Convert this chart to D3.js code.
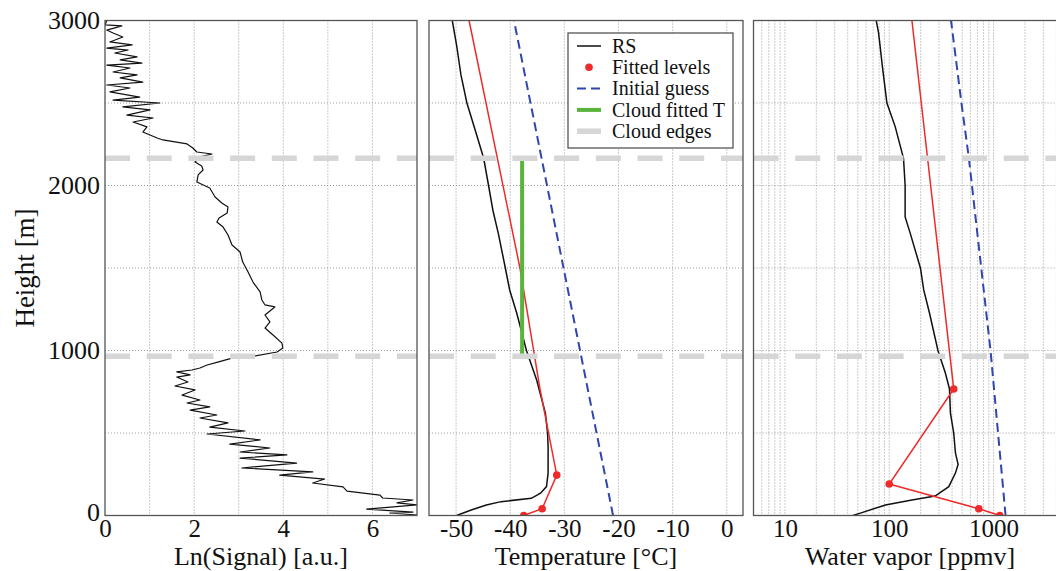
<!DOCTYPE html>
<html><head><meta charset="utf-8">
<script src="https://cdn.jsdelivr.net/npm/d3@7"></script>
<style>
body{margin:0;background:#fff}
svg{display:block}
text{font-family:"Liberation Serif","Times New Roman",serif;fill:#111}
</style>
</head><body>
<svg id="c" width="1056" height="571"></svg>
<script>
// ---------------- DATA ----------------
const heightTicks = [0, 1000, 2000, 3000];
const heightGrid = [500, 1000, 1500, 2000, 2500];
const signalTicks = [0, 2, 4, 6];
const signalGrid = [1, 2, 3, 4, 5, 6];
const tempTicks = [-50, -40, -30, -20, -10, 0];
const vaporTicks = [10, 100, 1000];
const cloudEdges = [965, 2165];
const cloudFittedT = -37.8;
const cloudFittedRange = [975, 2165];

// Ln(Signal) profile: [height m, ln signal]
const signalProfile = [[3000,0.04],[2973,0],[2967,0.38],[2942,0.04],[2924,0.18],[2900,0.40],[2870,0.11],[2852,0.61],[2833,0.04],[2821,0.52],[2803,0.22],[2779,0.72],[2761,0.34],[2742,0.83],[2730,0.04],[2712,0.56],[2688,0.18],[2670,0.72],[2652,0.34],[2627,0.85],[2609,0.04],[2591,0.56],[2567,0.11],[2536,0.78],[2518,0.18],[2500,1.23],[2476,0.40],[2458,1.01],[2427,0.49],[2409,1.08],[2385,0.63],[2355,0.94],[2324,0.85],[2306,1.01],[2288,1.17],[2276,1.30],[2264,1.57],[2252,1.84],[2227,1.97],[2203,2.06],[2191,2.40],[2173,2.13],[2142,2.02],[2118,2.17],[2094,2.20],[2064,2.09],[2021,2.06],[1985,2.35],[1930,2.47],[1894,2.62],[1870,2.76],[1833,2.74],[1803,2.56],[1779,2.51],[1748,2.65],[1700,2.76],[1639,2.85],[1597,3.03],[1536,3.09],[1476,3.21],[1415,3.32],[1355,3.48],[1306,3.52],[1276,3.59],[1264,3.81],[1215,3.59],[1173,3.70],[1136,3.59],[1094,3.77],[1045,3.97],[1015,3.99],[991,3.86],[961,3.25],[955,2.87],[930,2.53],[912,2.29],[894,2.13],[882,1.95],[870,1.61],[852,1.91],[839,1.61],[809,1.86],[785,1.57],[761,2.02],[730,1.73],[700,2.13],[682,1.84],[658,2.35],[639,1.91],[609,2.51],[591,2.13],[561,2.76],[536,2.35],[512,3.14],[494,2.29],[458,3.48],[433,2.80],[409,3.70],[385,3.03],[367,4.08],[348,3.03],[318,4.30],[288,3.07],[264,4.66],[245,3.92],[221,4.93],[197,4.66],[173,5.34],[148,5.43],[124,6.17],[106,6.23],[94,6.91],[76,6.55],[64,7.0],[39,5.87],[21,6.91],[15,6.39],[3,7.0]];

// Temperature panel: [height m, T °C]
const rsTemp = [[3000,-50.7],[2850,-49.9],[2670,-49.1],[2500,-48.0],[2350,-46.6],[2165,-44.9],[2000,-44.0],[1850,-43.2],[1710,-42.2],[1500,-40.9],[1367,-40.1],[1227,-38.8],[1000,-37.0],[820,-35.1],[620,-33.5],[500,-33.1],[417,-33.0],[257,-33.0],[175,-33.3],[135,-34.4],[104,-36.1],[84,-41.7],[64,-44.4],[33,-47.2],[0,-49.9]];
const fittedTempProfile = [[0,-37.5],[41,-34.1],[245,-31.4],[767,-34.5],[1500,-38.2],[3000,-47.6]];
const fittedTempLevels = [[0,-37.5],[41,-34.1],[245,-31.4]];
const initialTemp = [[0,-21.0],[3000,-39.3]];

// Water vapor panel: [height m, ppmv]
const rsVapor = [[3000,75],[2927,79],[2720,86],[2500,95],[2357,114],[2165,137],[2000,142],[1810,142],[1710,159],[1500,199],[1367,214],[1227,243],[1000,293],[864,345],[767,378],[620,386],[500,415],[379,431],[310,457],[257,431],[175,372],[118,275],[94,165],[64,92],[13,52],[0,45]];
const fittedVaporProfile = [[0,1148],[41,722],[191,100],[767,415],[3000,165]];
const fittedVaporLevels = [[0,1148],[41,722],[191,100],[767,415]];
const initialVapor = [[0,1303],[1000,935],[2165,580],[2500,492],[3000,391]];

// ---------------- CHART ----------------
const svg = d3.select("#c");
const yTop = 20.5, yBottom = 515.5;
const y = d3.scaleLinear().domain([0, 3000]).range([yBottom, yTop]);

const panels = [
  {x: d3.scaleLinear().domain([0, 7]).range([105, 417]), title: "Ln(Signal) [a.u.]", ticks: signalTicks, grid: signalGrid, fmt: d => String(d)},
  {x: d3.scaleLinear().domain([-55, 3]).range([429, 743]), title: "Temperature [°C]", ticks: tempTicks, grid: tempTicks, fmt: d => String(d)},
  {x: d3.scaleLog().domain([5, 5000]).range([753.5, 1066.5]), title: "Water vapor [ppmv]", ticks: vaporTicks, grid: null, fmt: d => String(d)}
];
const logGrid = [];
[1, 10, 100, 1000].forEach(dec => { for (let k = 1; k <= 9; k++) { const v = k * dec; if (v >= 5 && v <= 5000) logGrid.push(v); } });
panels[2].grid = logGrid;

const frameColor = "#555";
const gridColor = "#9a9a9a";

panels.forEach((p, i) => {
  const g = svg.append("g");
  const [x0, x1] = p.x.range();
  const clipId = "clip" + i;
  svg.append("clipPath").attr("id", clipId).append("rect")
    .attr("x", x0).attr("y", yTop).attr("width", x1 - x0).attr("height", yBottom - yTop);
  const inner = g.append("g").attr("clip-path", `url(#${clipId})`);
  inner.selectAll(".vg").data(p.grid).join("line")
    .attr("x1", d => p.x(d)).attr("x2", d => p.x(d)).attr("y1", yTop).attr("y2", yBottom)
    .attr("stroke", gridColor).attr("stroke-width", 1).attr("stroke-dasharray", "1,2");
  inner.selectAll(".hg").data(heightGrid).join("line")
    .attr("x1", x0).attr("x2", x1).attr("y1", d => y(d)).attr("y2", d => y(d))
    .attr("stroke", gridColor).attr("stroke-width", 1).attr("stroke-dasharray", "1,2");
  p.inner = inner; p.g = g;
  const ax = g.append("g").attr("transform", `translate(0,${yBottom})`)
    .call(d3.axisBottom(p.x).tickValues(p.ticks).tickSize(0).tickPadding(0).tickFormat(p.fmt));
  ax.select(".domain").remove();
  ax.selectAll("text").attr("y", 21).attr("dy", null).style("font-size", "25px").attr("fill", "#111");
  g.append("text").attr("x", (x0 + x1) / 2).attr("y", 565).attr("text-anchor", "middle")
    .style("font-size", "26px").text(p.title);
});

const line = (xs) => d3.line().x(d => xs(d[1])).y(d => y(d[0]));

// Panel 1
panels[0].inner.append("path").datum(signalProfile).attr("d", line(panels[0].x))
  .attr("fill", "none").attr("stroke", "#111").attr("stroke-width", 1.2).attr("stroke-linejoin", "round");

// Panel 2
const p2 = panels[1];
p2.inner.append("path").datum(rsTemp).attr("d", line(p2.x))
  .attr("fill", "none").attr("stroke", "#111").attr("stroke-width", 1.5);
p2.inner.append("path").datum(fittedTempProfile).attr("d", line(p2.x))
  .attr("fill", "none").attr("stroke", "#ee2a2a").attr("stroke-width", 1.5);
p2.inner.selectAll(".dot").data(fittedTempLevels).join("circle")
  .attr("cx", d => p2.x(d[1])).attr("cy", d => y(d[0])).attr("r", 3.8).attr("fill", "#ee2a2a");
p2.inner.append("path").datum(initialTemp).attr("d", line(p2.x))
  .attr("fill", "none").attr("stroke", "#3045b0").attr("stroke-width", 2).attr("stroke-dasharray", "9,5");
p2.inner.append("line")
  .attr("x1", p2.x(cloudFittedT)).attr("x2", p2.x(cloudFittedT))
  .attr("y1", y(cloudFittedRange[0])).attr("y2", y(cloudFittedRange[1]))
  .attr("stroke", "#5ab43c").attr("stroke-width", 4);

// Panel 3
const p3 = panels[2];
p3.inner.append("path").datum(rsVapor).attr("d", line(p3.x))
  .attr("fill", "none").attr("stroke", "#111").attr("stroke-width", 1.5);
p3.inner.append("path").datum(fittedVaporProfile).attr("d", line(p3.x))
  .attr("fill", "none").attr("stroke", "#ee2a2a").attr("stroke-width", 1.5);
p3.inner.selectAll(".dot").data(fittedVaporLevels).join("circle")
  .attr("cx", d => p3.x(d[1])).attr("cy", d => y(d[0])).attr("r", 3.8).attr("fill", "#ee2a2a");
p3.inner.append("path").datum(initialVapor).attr("d", line(p3.x))
  .attr("fill", "none").attr("stroke", "#3045b0").attr("stroke-width", 2).attr("stroke-dasharray", "9,5");

// Cloud edges + frames
panels.forEach(p => {
  const [x0, x1] = p.x.range();
  p.inner.selectAll(".ce").data(cloudEdges).join("line")
    .attr("x1", x0).attr("x2", x1).attr("y1", d => y(d)).attr("y2", d => y(d))
    .attr("stroke", "#d6d6d6").attr("stroke-width", 5.5).attr("stroke-dasharray", "25,16.7");
  p.g.append("rect").attr("x", x0).attr("y", yTop).attr("width", x1 - x0).attr("height", yBottom - yTop)
    .attr("fill", "none").attr("stroke", frameColor).attr("stroke-width", 1.3);
});

// Y axis on panel 1
const ay = svg.append("g").attr("transform", "translate(105,0)")
  .call(d3.axisLeft(y).tickValues(heightTicks).tickSize(0).tickPadding(5).tickFormat(d => String(d)));
ay.select(".domain").remove();
ay.selectAll("text").style("font-size", "26px").attr("fill", "#111");
ay.selectAll(".tick").filter(d => d === 0).select("text").attr("dy", "0.2em");
svg.append("text").attr("transform", "translate(34,268) rotate(-90)").attr("text-anchor", "middle")
  .style("font-size", "27px").text("Height [m]");

// Legend
const lg = svg.append("g");
lg.append("rect").attr("x", 568).attr("y", 33).attr("width", 165).attr("height", 115)
  .attr("fill", "#fff").attr("stroke", frameColor).attr("stroke-width", 1.3);
const legendItems = [
  {label: "RS", type: "line", color: "#111", w: 1.5, dash: null},
  {label: "Fitted levels", type: "dot", color: "#ee2a2a"},
  {label: "Initial guess", type: "line", color: "#3045b0", w: 2, dash: "9,5"},
  {label: "Cloud fitted T", type: "line", color: "#5ab43c", w: 4, dash: null},
  {label: "Cloud edges", type: "line", color: "#d6d6d6", w: 5.5, dash: null}
];
legendItems.forEach((it, i) => {
  const cy = 46 + i * 21.3;
  if (it.type === "line") {
    lg.append("line").attr("x1", 577).attr("x2", 601).attr("y1", cy).attr("y2", cy)
      .attr("stroke", it.color).attr("stroke-width", it.w).attr("stroke-dasharray", it.dash);
  } else {
    lg.append("circle").attr("cx", 589).attr("cy", cy).attr("r", 3.8).attr("fill", it.color);
  }
  lg.append("text").attr("x", 612).attr("y", cy).attr("dy", "0.33em")
    .style("font-size", "20px").text(it.label);
});
</script>
</body></html>
